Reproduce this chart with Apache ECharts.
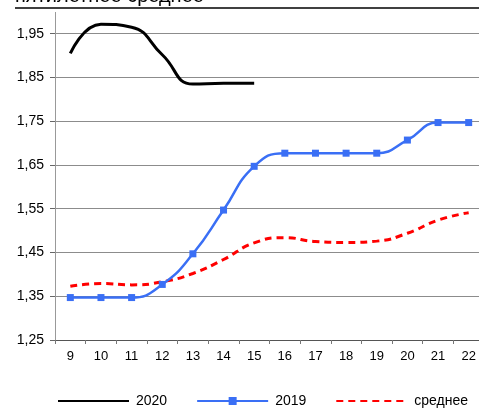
<!DOCTYPE html>
<html>
<head>
<meta charset="utf-8">
<script src="https://cdn.jsdelivr.net/npm/echarts@6/dist/echarts.min.js"></script>
<style>
html,body{margin:0;padding:0;background:#fff;}
#chart{width:479px;height:408px;}
</style>
</head>
<body>
<div id="chart"></div>
<script>
var categories = ['9','10','11','12','13','14','15','16','17','18','19','20','21','22'];
var series2020 = [1.905, 1.972, 1.965, 1.902, 1.835, 1.837, 1.837, null, null, null, null, null, null, null];
var series2019 = [1.347, 1.347, 1.347, 1.377, 1.447, 1.547, 1.647, 1.677, 1.677, 1.677, 1.677, 1.707, 1.747, 1.747];
var seriesAvg = [1.373, 1.379, 1.376, 1.383, 1.402, 1.434, 1.472, 1.484, 1.475, 1.473, 1.476, 1.494, 1.524, 1.541];
var seriesNames = ['2020', '2019', 'среднее'];
var yMin = 1.25, yMax = 2.05, yStep = 0.1;

var chart = echarts.init(document.getElementById('chart'), null, {renderer: 'canvas'});
var font = 'Liberation Sans, Arial, sans-serif';
chart.setOption({
  animation: false,
  backgroundColor: '#ffffff',
  textStyle: {fontFamily: font},
  grid: {left: 55, top: -10, width: 429, bottom: 68, containLabel: false, outerBoundsMode: 'none'},
  legend: {
    left: 57, top: 394, itemWidth: 71, itemHeight: 10, itemGap: 29,
    padding: 0,
    textStyle: {fontSize: 14, color: '#000', fontFamily: font, padding: [0, 0, 0, 2]},
    data: [
      {name: seriesNames[0], itemStyle: {opacity: 0}},
      {name: seriesNames[1]},
      {name: seriesNames[2], itemStyle: {opacity: 0}}
    ]
  },
  xAxis: {
    type: 'category', data: categories, boundaryGap: true,
    axisLine: {lineStyle: {color: '#555', width: 1}},
    axisTick: {show: true, length: 4, lineStyle: {color: '#777'}},
    axisLabel: {fontSize: 13, color: '#000', margin: 10, fontFamily: font},
    splitLine: {show: false}
  },
  yAxis: {
    type: 'value', min: yMin, max: yMax, interval: yStep,
    axisLine: {show: true, lineStyle: {color: '#999', width: 1}},
    axisTick: {show: true, length: 5, lineStyle: {color: '#666'}},
    axisLabel: {fontSize: 14, color: '#000', margin: 11, fontFamily: font,
      formatter: function (v) { return v.toFixed(2).replace('.', ','); }},
    splitLine: {show: true, lineStyle: {color: '#8c8c8c', width: 1}}
  },
  series: [
    {name: seriesNames[0], type: 'line', data: series2020, smooth: 0.5, symbol: 'none',
     connectNulls: false, lineStyle: {color: '#000', width: 3}, itemStyle: {color: '#000'}, z: 4},
    {name: seriesNames[1], type: 'line', data: series2019, smooth: 0.5, symbol: 'rect', symbolSize: 7,
     showSymbol: true, lineStyle: {color: '#3a6ff5', width: 2.5}, itemStyle: {color: '#3a6ff5'}, z: 3},
    {name: seriesNames[2], type: 'line', data: seriesAvg, smooth: 0.5, symbol: 'none',
     lineStyle: {color: '#ff0000', width: 3, type: [7, 5]}, itemStyle: {color: '#ff0000'}, z: 2}
  ],
  graphic: [
    {type: 'rect', shape: {x: 45, y: 0, width: 20, height: 12}, style: {fill: '#fff'}, z: 100},
    {type: 'text', x: 15, y: 6, style: {text: 'пятилетнее среднее', font: '20px Liberation Sans, Arial, sans-serif', fill: '#000', align: 'left', verticalAlign: 'bottom'}, z: 101},
    {type: 'line', shape: {x1: 15, y1: 8, x2: 479, y2: 8}, style: {stroke: '#000', lineWidth: 1.5}, z: 101}
  ]
});
</script>
</body>
</html>
